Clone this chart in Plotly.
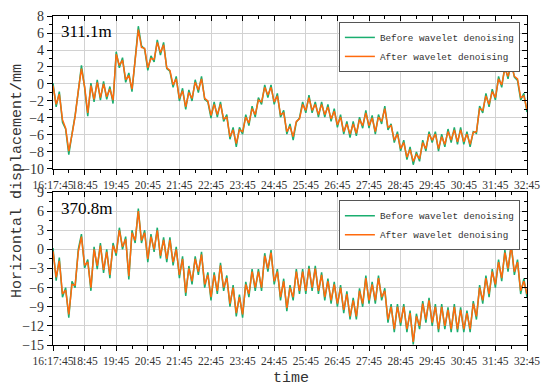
import plotly.graph_objects as go

# ---------------- data ----------------
hours = [round(i * 0.1, 1) for i in range(151)]
tick_pos = list(range(16))
tick_labels = ["16:17:45", "18:45", "19:45", "20:45", "21:45", "22:45", "23:45", "24:45",
               "25:45", "26:45", "27:45", "28:45", "29:45", "30:45", "31:45", "32:45"]

top_before = [
    0.1, -2.7, -0.9, -4.5, -5.3, -8.3, -5.9, -3.7, -0.9, 2.2,
    -0.4, -3.8, 0.1, -2.1, 0.5, -1.9, 0.3, -1.8, -0.3, -2.3,
    3.8, 1.9, 3.1, 0.2, 1.3, -0.9, 2.9, 6.8, 4.5, 4.1,
    1.6, 3.3, 2.6, 5.2, 3.4, 4.9, 1.8, 1.5, -0.4, 0.9,
    -2.0, -0.5, -3.0, -0.7, -2.0, 0.5, -1.0, 0.9, -1.8, -2.1,
    -4.0, -2.1, -3.9, -2.1, -4.4, -3.6, -6.5, -5.1, -7.4, -5.1,
    -5.9, -3.6, -4.9, -2.6, -3.9, -1.6, -2.4, -0.1, -1.6, -0.1,
    -2.4, -1.1, -3.9, -3.1, -5.9, -4.7, -6.6, -4.5, -4.0, -2.1,
    -3.4, -1.3, -3.4, -2.1, -3.9, -2.1, -3.9, -2.4, -4.4, -2.9,
    -5.1, -3.6, -5.9, -4.4, -6.3, -4.4, -6.1, -3.9, -5.2, -3.1,
    -5.2, -3.7, -5.9, -3.6, -4.7, -2.6, -5.4, -4.7, -6.9, -5.6,
    -7.9, -6.6, -8.9, -7.4, -9.5, -8.0, -9.1, -6.6, -7.9, -5.6,
    -6.9, -5.6, -7.9, -5.9, -7.4, -5.3, -6.9, -5.1, -7.1, -5.1,
    -7.1, -5.6, -7.4, -5.6, -5.8, -2.6, -3.4, -1.1, -2.7, -0.6,
    -1.9, 0.9, -0.4, 2.1, 0.6, 2.7, 0.8, 0.4, -1.9, -1.1,
    -3.3,
]
top_after = [
    -0.2, -2.4, -1.2, -4.2, -5.2, -7.9, -6.0, -3.8, -0.8, 1.8,
    -0.3, -3.4, -0.2, -1.8, 0.2, -1.6, 0.0, -1.5, -0.6, -1.9,
    3.5, 2.2, 2.8, 0.5, 1.0, -0.6, 2.8, 6.4, 4.3, 4.2,
    1.9, 3.0, 2.9, 4.9, 3.7, 4.6, 1.9, 1.6, -0.1, 0.6,
    -1.7, -0.8, -2.7, -1.0, -1.7, 0.2, -0.7, 0.6, -1.7, -2.0,
    -3.7, -2.4, -3.6, -2.4, -4.1, -3.9, -6.2, -5.4, -7.0, -5.4,
    -5.6, -3.9, -4.6, -2.9, -3.6, -1.9, -2.1, -0.4, -1.3, -0.4,
    -2.1, -1.4, -3.6, -3.4, -5.6, -5.0, -6.2, -4.4, -4.1, -2.4,
    -3.1, -1.6, -3.1, -2.4, -3.6, -2.4, -3.6, -2.7, -4.1, -3.2,
    -4.8, -3.9, -5.6, -4.7, -5.9, -4.7, -5.8, -4.2, -4.9, -3.4,
    -4.9, -4.0, -5.6, -3.9, -4.4, -2.9, -5.1, -4.9, -6.6, -5.9,
    -7.6, -6.9, -8.6, -7.7, -9.1, -8.3, -8.8, -6.9, -7.6, -5.9,
    -6.6, -5.9, -7.6, -6.2, -7.1, -5.6, -6.6, -5.4, -6.8, -5.4,
    -6.8, -5.9, -7.1, -5.7, -5.6, -2.9, -3.1, -1.4, -2.4, -0.9,
    -1.6, 0.6, -0.1, 1.8, 0.9, 2.4, 0.9, 0.6, -1.6, -1.4,
    -3.0,
]
bottom_before = [
    0.2, -4.9, -1.3, -7.5, -6.0, -10.7, -5.0, -6.0, 0.0, 2.4,
    -2.9, -1.6, -6.5, 0.4, -3.1, 1.0, -3.7, 0.0, -4.5, 1.0,
    -1.0, 3.4, 0.0, 2.0, -4.7, 3.0, 1.0, 6.4, 1.0, 3.0,
    -2.0, 2.4, -0.4, 3.4, -1.4, 1.9, -2.0, 1.9, -2.5, 0.4,
    -4.5, -1.1, -7.3, -2.6, -5.5, -1.1, -4.0, -0.4, -6.0, -3.6,
    -8.0, -3.6, -7.0, -2.1, -6.5, -4.1, -9.0, -5.6, -10.5, -7.1,
    -10.7, -5.1, -7.5, -3.1, -6.5, -3.1, -6.5, -0.6, -3.5, -0.1,
    -5.5, -3.1, -8.0, -4.6, -9.7, -5.6, -8.0, -3.1, -7.0, -3.1,
    -7.0, -2.6, -6.5, -2.6, -7.0, -3.6, -8.0, -4.6, -8.5, -5.1,
    -9.0, -5.6, -10.0, -6.6, -11.0, -7.6, -11.0, -6.1, -9.0, -4.1,
    -8.5, -5.1, -8.5, -4.1, -8.0, -6.1, -11.5, -8.6, -13.0, -8.6,
    -12.0, -8.6, -13.0, -9.6, -14.9, -10.1, -12.5, -8.1, -11.5, -7.6,
    -12.0, -8.6, -13.0, -8.6, -12.5, -9.1, -13.0, -8.6, -13.0, -9.1,
    -13.0, -9.6, -13.0, -8.1, -11.0, -5.6, -8.5, -4.1, -7.5, -3.1,
    -6.0, -1.6, -5.0, -0.1, -3.5, 0.9, -4.0, -1.6, -7.0, -4.6,
    -7.5,
]
bottom_after = [
    -0.3, -4.4, -1.8, -7.0, -6.4, -10.2, -5.5, -5.6, -0.4, 2.0,
    -2.5, -2.0, -6.0, 0.0, -2.6, 0.6, -3.2, -0.4, -4.0, 0.6,
    -0.6, 3.0, 0.4, 1.6, -4.2, 2.6, 1.4, 6.0, 1.4, 2.6,
    -1.5, 2.0, 0.0, 3.0, -1.0, 1.5, -1.5, 1.5, -2.0, 0.0,
    -4.0, -1.5, -6.8, -3.0, -5.0, -1.5, -3.5, -0.8, -5.5, -4.0,
    -7.5, -4.0, -6.5, -2.5, -6.0, -4.5, -8.5, -6.0, -10.0, -7.5,
    -10.2, -5.5, -7.0, -3.5, -6.0, -3.5, -6.0, -1.0, -3.0, -0.5,
    -5.0, -3.5, -7.5, -5.0, -9.2, -6.0, -7.5, -3.5, -6.5, -3.5,
    -6.5, -3.0, -6.0, -3.0, -6.5, -4.0, -7.5, -5.0, -8.0, -5.5,
    -8.5, -6.0, -9.5, -7.0, -10.5, -8.0, -10.5, -6.5, -8.5, -4.5,
    -8.0, -5.5, -8.0, -4.5, -7.5, -6.5, -11.0, -9.0, -12.5, -9.0,
    -11.5, -9.0, -12.5, -10.0, -14.5, -10.5, -12.0, -8.5, -11.0, -8.0,
    -11.5, -9.0, -12.5, -9.0, -12.0, -9.5, -12.5, -9.0, -12.5, -9.5,
    -12.5, -10.0, -12.5, -8.5, -10.5, -6.0, -8.0, -4.5, -7.0, -3.5,
    -5.5, -2.0, -4.5, -0.5, -3.0, 0.5, -3.5, -2.0, -6.5, -5.0,
    -7.0,
]
panel_labels = ["311.1m", "370.8m"]
series_names = ["Before wavelet denoising", "After wavelet denoising"]

# ---------------- style ----------------
GREEN = "#1aae6f"
ORANGE = "#ff6a0d"
GRID = "#d2d2d2"
SERIF = "Liberation Serif"
MONO = "Liberation Mono"

fig = go.Figure()

fig.add_trace(go.Scatter(x=hours, y=top_before, mode="lines", name=series_names[0],
                         line=dict(color=GREEN, width=1.5), xaxis="x", yaxis="y", legend="legend"))
fig.add_trace(go.Scatter(x=hours, y=top_after, mode="lines", name=series_names[1],
                         line=dict(color=ORANGE, width=1.5), xaxis="x", yaxis="y", legend="legend"))
fig.add_trace(go.Scatter(x=hours, y=bottom_before, mode="lines", name=series_names[0],
                         line=dict(color=GREEN, width=1.5), xaxis="x2", yaxis="y2", legend="legend2"))
fig.add_trace(go.Scatter(x=hours, y=bottom_after, mode="lines", name=series_names[1],
                         line=dict(color=ORANGE, width=1.5), xaxis="x2", yaxis="y2", legend="legend2"))
fig.add_trace(go.Scatter(x=[None], y=[None], xaxis="x3", yaxis="y3", showlegend=False, hoverinfo="skip"))
fig.add_trace(go.Scatter(x=[None], y=[None], xaxis="x4", yaxis="y4", showlegend=False, hoverinfo="skip"))

top_dom = [0.535, 1.0]
bot_dom = [0.0, 0.465]
xr = [0, 15]

def xmain(anchor):
    return dict(range=xr, tickmode="array", tickvals=tick_pos, ticktext=tick_labels,
                tickangle=0, automargin=False,
                showgrid=True, gridcolor=GRID, gridwidth=1, zeroline=False,
                showline=True, linecolor="black", linewidth=1.3, mirror=True,
                ticks="outside", ticklen=5, tickwidth=1.3, tickcolor="black",
                minor=dict(ticks="outside", ticklen=3, tickwidth=1.1, tickcolor="black",
                           dtick=0.5, tick0=0, showgrid=False),
                tickfont=dict(family=SERIF, size=11.5, color="#333"),
                anchor=anchor)

def ymain(anchor, domain, rng, dtick):
    return dict(range=rng, domain=domain, dtick=dtick, tick0=0, automargin=False,
                showgrid=True, gridcolor=GRID, gridwidth=1, zeroline=False,
                showline=True, linecolor="black", linewidth=1.3, mirror=True,
                ticks="outside", ticklen=5, tickwidth=1.3, tickcolor="black",
                minor=dict(ticks="outside", ticklen=3, tickwidth=1.1, tickcolor="black",
                           dtick=dtick / 2, showgrid=False),
                tickfont=dict(family=SERIF, size=14, color="#333"),
                anchor=anchor)

def xover(over, anchor):
    return dict(range=xr, overlaying=over, side="top", anchor=anchor, automargin=False,
                tickmode="array", tickvals=tick_pos, showticklabels=False,
                showgrid=False, zeroline=False, showline=False,
                ticks="inside", ticklen=5, tickwidth=1.3, tickcolor="black",
                minor=dict(ticks="inside", ticklen=3, tickwidth=1.1, tickcolor="black",
                           dtick=0.5, tick0=0, showgrid=False))

def yover(over, anchor, rng, dtick):
    return dict(range=rng, overlaying=over, side="right", anchor=anchor, automargin=False,
                dtick=dtick, tick0=0, showticklabels=False,
                showgrid=False, zeroline=False, showline=False,
                ticks="inside", ticklen=5, tickwidth=1.3, tickcolor="black",
                minor=dict(ticks="inside", ticklen=3, tickwidth=1.1, tickcolor="black",
                           dtick=dtick / 2, showgrid=False))

legend_common = dict(
    xanchor="right", yanchor="top", bgcolor="white",
    bordercolor="#555", borderwidth=1,
    font=dict(family=MONO, size=9.3, color="#333"),
    tracegroupgap=0, itemwidth=30,
)

# the page body adds an 8px offset, so the figure is 8px smaller on each axis
fig.update_layout(
    width=542, height=384,
    margin=dict(l=45, r=23, t=8, b=47, autoexpand=False),
    paper_bgcolor="white", plot_bgcolor="white",
    xaxis=xmain("y"),
    yaxis=ymain("x", top_dom, [-10, 8], 2),
    xaxis2=xmain("y2"),
    yaxis2=ymain("x2", bot_dom, [-15, 9], 3),
    xaxis3=xover("x", "y3"),
    yaxis3=yover("y", "x3", [-10, 8], 2),
    xaxis4=xover("x2", "y4"),
    yaxis4=yover("y2", "x4", [-15, 9], 3),
    legend=dict(x=0.985, y=0.982, **legend_common),
    legend2=dict(x=0.985, y=0.44, **legend_common),
    showlegend=True,
    annotations=[
        dict(text=panel_labels[0], x=0.012, y=0.988, xref="paper", yref="paper",
             xanchor="left", yanchor="top", showarrow=False,
             font=dict(family=SERIF, size=17, color="black")),
        dict(text=panel_labels[1], x=0.012, y=0.45, xref="paper", yref="paper",
             xanchor="left", yanchor="top", showarrow=False,
             font=dict(family=SERIF, size=17, color="black")),
        dict(text="Horizontal displacement/mm", x=-0.075, y=0.5, xref="paper", yref="paper",
             xanchor="center", yanchor="middle", textangle=-90, showarrow=False,
             font=dict(family=MONO, size=15, color="#333")),
        dict(text="time", x=0.502, y=-0.103, xref="paper", yref="paper",
             xanchor="center", yanchor="middle", showarrow=False,
             font=dict(family=MONO, size=15, color="#333")),
    ],
)

fig.write_html("out.html")
